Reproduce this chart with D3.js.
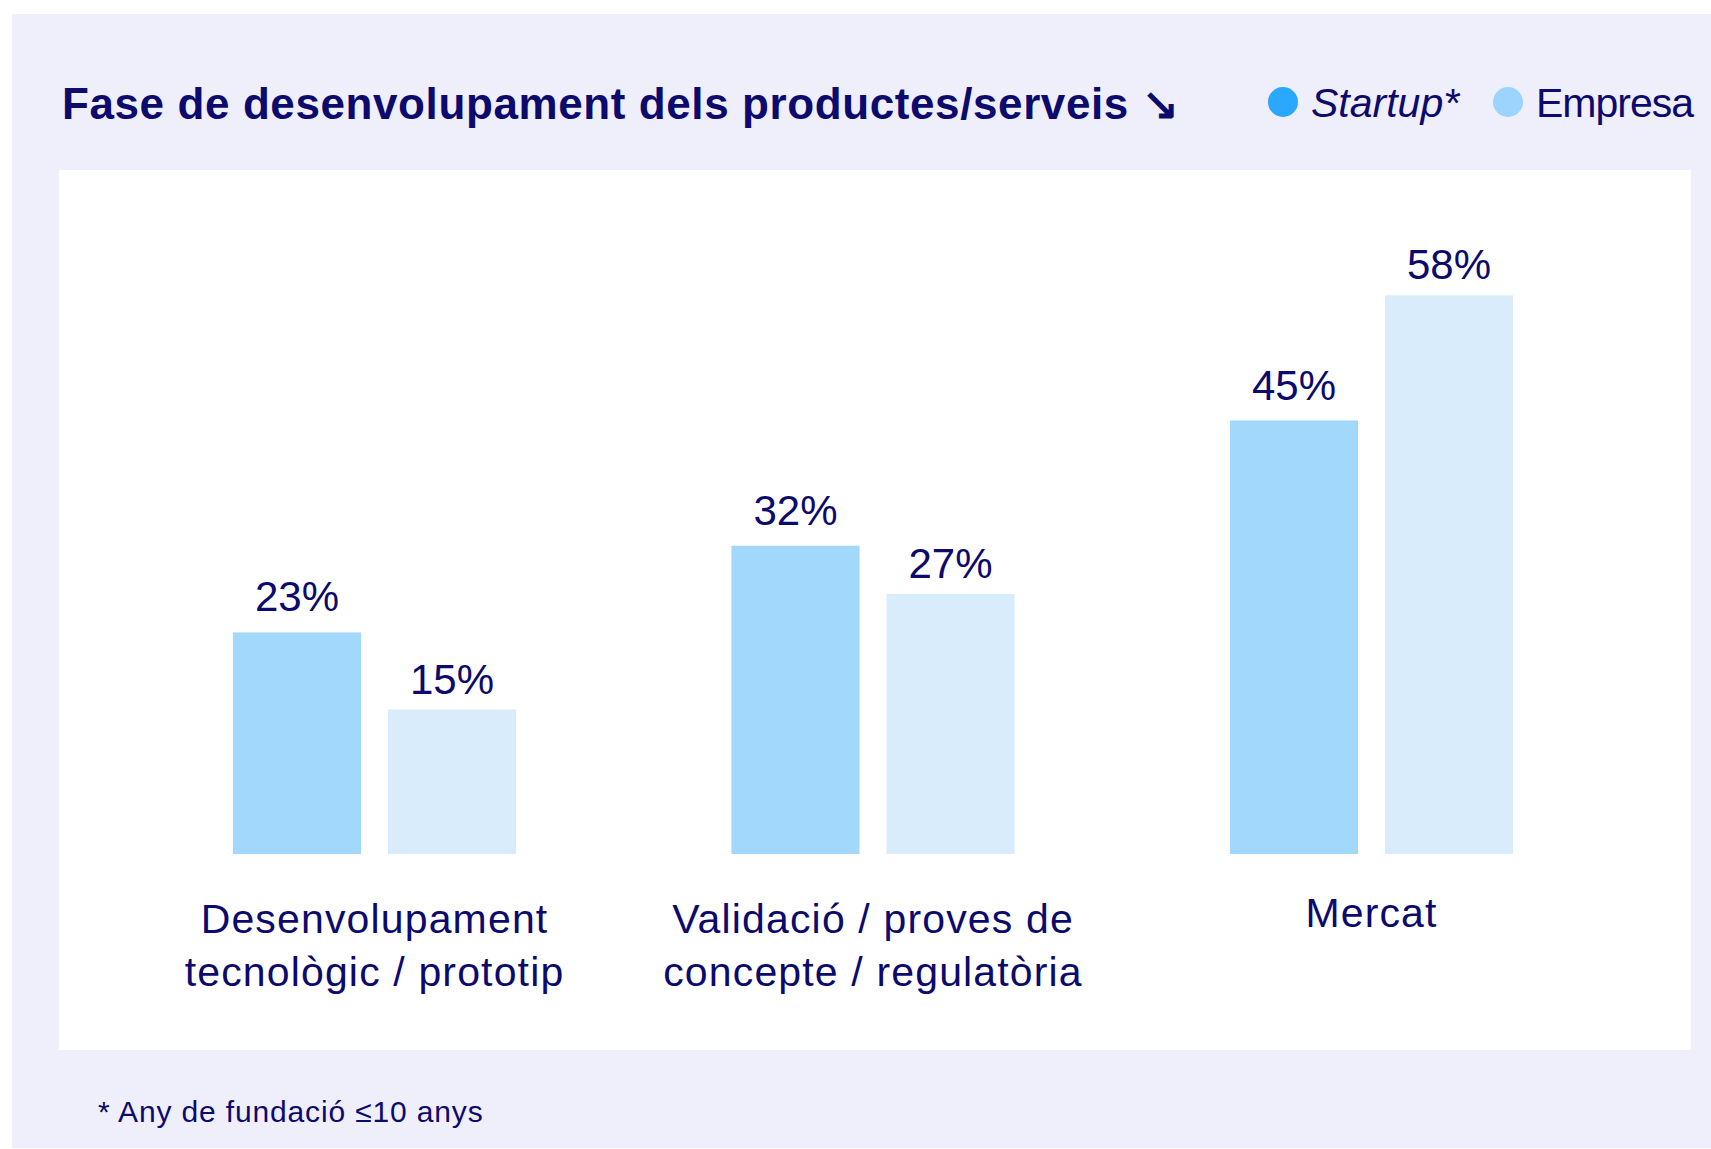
<!DOCTYPE html>
<html>
<head>
<meta charset="utf-8">
<script src="https://cdn.jsdelivr.net/npm/d3@7"></script>
<style>
  body { margin: 0; background: #fff; }
  svg text { font-family: "Liberation Sans", Arial, sans-serif; fill: #0c0a6c; }
</style>
</head>
<body>
<div id="chart"></div>
<script>
// data
const categories = [
  ["Desenvolupament", "tecnològic / prototip"],
  ["Validació / proves de", "concepte / regulatòria"],
  ["Mercat"]
]
const seriesNames = ["Startup", "Empresa"]
const startupValues = [23, 32, 45]
const empresaValues = [15, 27, 58]

const width = 1711, height = 1149
const barColors = ['#a3d8fd', '#d9ecfc']
const legendColors = ['#2aa8ff', '#9bd4ff']
const labelGap = [21, 16] // gap between value label and bar top, per series

const svg = d3.select("#chart").append("svg")
  .attr("width", width)
  .attr("height", height)

// panels
svg.append("rect").attr("x", 12).attr("y", 14).attr("width", width - 12).attr("height", 1134).attr("fill", "#efeefb")
svg.append("rect").attr("x", 59).attr("y", 170).attr("width", 1632).attr("height", 880).attr("fill", "#fff")

// title
svg.append("text")
  .attr("x", 62).attr("y", 119)
  .attr("font-size", "44px").attr("font-weight", "bold")
  .attr("letter-spacing", "0.6px")
  .text("Fase de desenvolupament dels productes/serveis ↘")

// legend
const legend = svg.append("g")
const legendX = [1283, 1508]
seriesNames.forEach((s, i) => {
  legend.append("circle").attr("cx", legendX[i]).attr("cy", 102).attr("r", 15).attr("fill", legendColors[i])
  legend.append("text")
    .attr("x", legendX[i] + 28).attr("y", 117)
    .attr("font-size", "41px")
    .attr("letter-spacing", i == 0 ? "0px" : "-1px")
    .attr("font-style", i == 0 ? "italic" : "normal")
    .text(i == 0 ? s + "*" : s)
})

// scales
const x0 = d3.scaleBand()
  .domain(d3.range(categories.length))
  .range([125, 1621])
  .paddingInner(0.432)
  .paddingOuter(0.2165)

const x1 = d3.scaleBand()
  .domain(seriesNames)
  .range([0, x0.bandwidth()])
  .paddingInner(0.174)

const y = d3.scaleLinear().domain([0, 60]).range([854, 276])

const groups = svg.append("g").selectAll("g")
  .data(categories.map((c, i) => ({ i: i, vals: [startupValues[i], empresaValues[i]] })))
  .enter().append("g")
  .attr("transform", d => "translate(" + x0(d.i) + ",0)")

groups.selectAll("rect")
  .data(d => d.vals.map((v, j) => ({ s: seriesNames[j], v: v, j: j })))
  .enter().append("rect")
  .attr("x", d => x1(d.s))
  .attr("y", d => y(d.v))
  .attr("width", x1.bandwidth())
  .attr("height", d => y(0) - y(d.v))
  .attr("fill", d => barColors[d.j])

groups.selectAll("text.val")
  .data(d => d.vals.map((v, j) => ({ s: seriesNames[j], v: v, j: j })))
  .enter().append("text")
  .attr("class", "val")
  .attr("x", d => x1(d.s) + x1.bandwidth() / 2)
  .attr("y", d => y(d.v) - labelGap[d.j])
  .attr("text-anchor", "middle")
  .attr("font-size", "42px")
  .text(d => d.v + "%")

// category labels
const catLabels = svg.append("g").selectAll("text")
  .data(categories)
  .enter().append("text")
  .attr("text-anchor", "middle")
  .attr("font-size", "41px")
  .attr("letter-spacing", "1.15px")
  .attr("transform", (d, i) => "translate(" + (x0(i) + x0.bandwidth() / 2) + ",0)")

catLabels.selectAll("tspan")
  .data(d => d)
  .enter().append("tspan")
  .attr("x", 0)
  .attr("y", (d, k, nodes) => nodes.length == 1 ? 927 : 933 + k * 53)
  .text(d => d)

// footnote
svg.append("text")
  .attr("x", 98).attr("y", 1122)
  .attr("font-size", "30px")
  .attr("letter-spacing", "0.85px")
  .text("* Any de fundació ≤10 anys")
</script>
</body>
</html>
